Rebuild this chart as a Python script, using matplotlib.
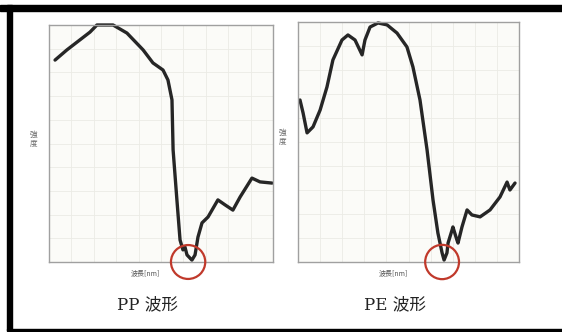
import matplotlib.pyplot as plt
from matplotlib.patches import Ellipse, Rectangle

# PP waveform (wavelength index, intensity)
pp_x = [2.7, 8.0, 18.3, 21.4, 28.6, 34.8, 42.0, 46.4, 50.9, 53.1, 54.9, 55.4, 57.1,
        58.5, 59.8, 60.7, 61.6, 63.8, 65.2, 66.5, 68.3, 71.0, 75.4, 78.6, 82.1,
        85.3, 90.6, 94.2, 99.6]
pp_y = [85.2, 89.5, 97.0, 100, 100, 96.6, 89.5, 84.0, 81.0, 76.8, 68.4, 47.3, 26.2,
        9.3, 5.1, 6.3, 3.0, 0.8, 3.0, 10.5, 16.5, 19.0, 26.2, 24.1, 21.9,
        27.4, 35.4, 33.8, 33.3]

# PE waveform
pe_x = [0.9, 2.3, 4.1, 6.8, 10.0, 13.1, 15.8, 19.9, 22.6, 25.8, 29.0, 30.3, 32.6,
        36.2, 40.3, 44.8, 49.3, 52.0, 55.2, 58.4, 61.1, 63.3, 65.2, 66.1, 67.4,
        67.9, 69.7, 70.1, 71.9, 72.4, 74.2, 76.5, 78.7, 82.4, 86.9, 91.4, 94.6,
        95.9, 98.2]
pe_y = [67.5, 62.1, 53.8, 56.3, 63.3, 72.9, 84.2, 92.5, 94.6, 92.5, 86.3, 92.5, 97.9,
        99.6, 98.8, 95.4, 89.6, 81.3, 67.5, 46.7, 25.8, 12.1, 3.8, 0.8, 3.8,
        7.9, 13.3, 14.6, 9.2, 7.9, 14.6, 21.7, 19.6, 18.8, 21.7, 27.1, 33.3,
        30.0, 32.9]

titles = ["PP 波形", "PE 波形"]
marks = [62.1, 65.2]  # circled minimum, x position
ylabel = "強\n度"
xlabel = "波長[nm]"

W, H = 562, 332
fig = plt.figure(figsize=(W / 100, H / 100), dpi=100)
fig.patch.set_facecolor("white")

def px_box(x0, y0, x1, y1):
    return [x0 / W, 1 - y1 / H, (x1 - x0) / W, (y1 - y0) / H]

# black frame around the picture (top, left, bottom)
fig.patches.append(Rectangle((0, 1 - 11 / H), 1, 6 / H, transform=fig.transFigure,
                             color="black", zorder=10))
fig.patches.append(Rectangle((7 / W, 1 - 330 / H), 5 / W, 325 / H,
                             transform=fig.transFigure, color="black", zorder=10))
fig.patches.append(Rectangle((7 / W, 1 - 331 / H), 1, 2 / H,
                             transform=fig.transFigure, color="black", zorder=10))

boxes = [px_box(49, 25, 273, 262), px_box(298, 22, 519, 262)]
series = [(pp_x, pp_y), (pe_x, pe_y)]

for i, (box, (xs, ys)) in enumerate(zip(boxes, series)):
    ax = fig.add_axes(box)
    ax.set_facecolor("#fbfbf8")
    ax.plot(xs, ys, color="#262626", lw=2.4, solid_joinstyle="round",
            solid_capstyle="round", clip_on=False)
    ax.set_xlim(0, 100)
    ax.set_ylim(0, 100)
    ax.set_xticks(range(0, 101, 10))
    ax.set_yticks(range(0, 101, 10))
    ax.grid(True, color="#ebebe5", lw=0.6)
    ax.tick_params(length=0, labelbottom=False, labelleft=False)
    for s in ax.spines.values():
        s.set_color("#a0a0a0")
        s.set_linewidth(1.0)
    ax.add_patch(Ellipse((marks[i], 0), 15.3, 14.3, fill=False, ec="#c0392b",
                         lw=1.6, clip_on=False, zorder=5))
    ax.text(-0.07, 0.52, ylabel, transform=ax.transAxes, fontsize=5.5,
            family=["Noto Sans CJK JP"], color="#666666", ha="center", va="center",
            linespacing=1.0)
    ax.text(0.43, -0.045, xlabel, transform=ax.transAxes, fontsize=5,
            family=["Noto Sans CJK JP"], color="#555555", ha="center", va="center")
    ax.text(0.44, -0.18, titles[i], transform=ax.transAxes, fontsize=12,
            family=["DejaVu Serif", "Noto Sans CJK JP"], color="#222222",
            ha="center", va="center")

fig.savefig("out.png", dpi=100)
